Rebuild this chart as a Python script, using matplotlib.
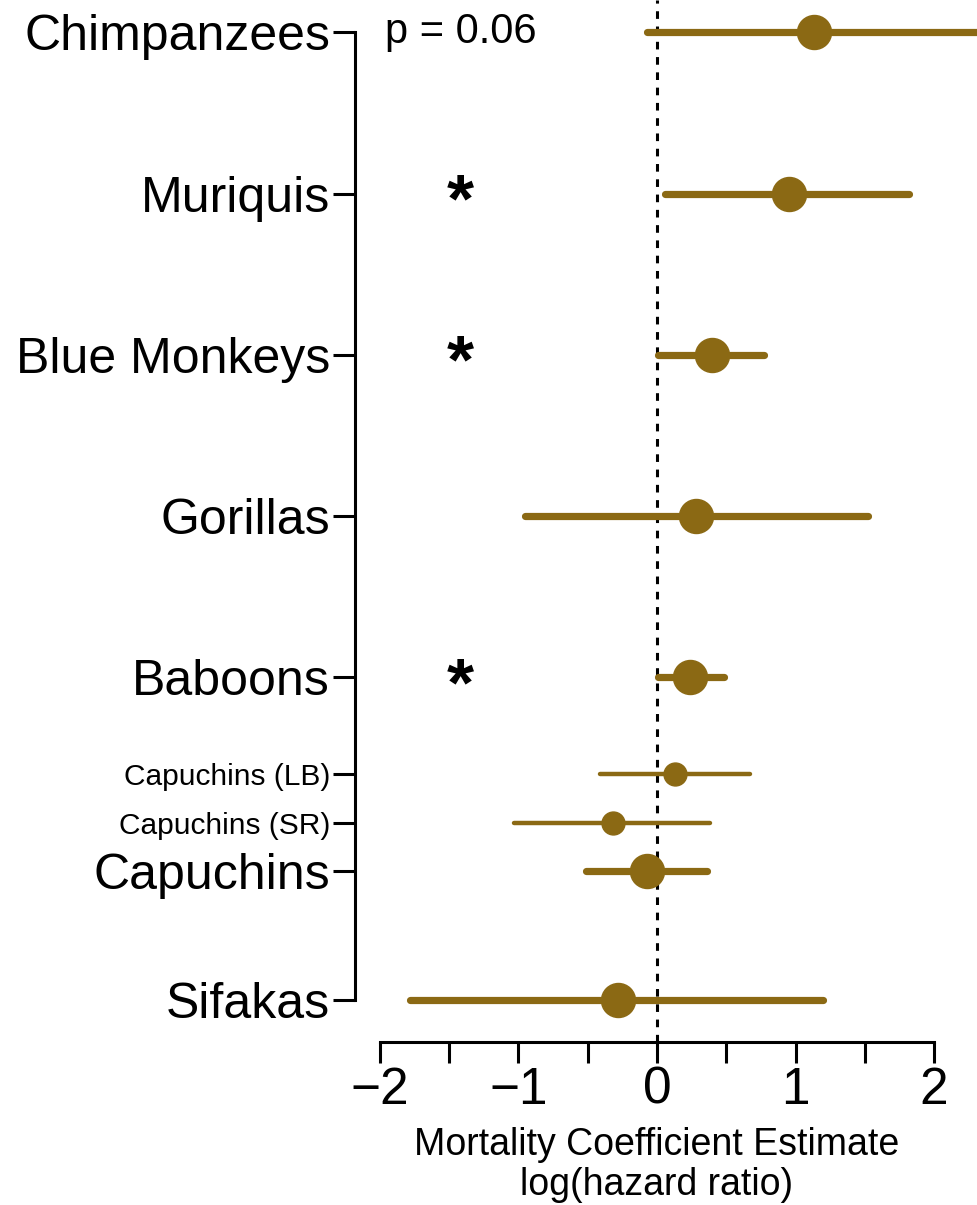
import numpy as np
import matplotlib
matplotlib.use('Agg')
import matplotlib.pyplot as plt

plt.rcParams['font.family'] = ['Liberation Sans', 'DejaVu Sans']

# species rows, top to bottom
species = ['Chimpanzees', 'Muriquis', 'Blue Monkeys', 'Gorillas', 'Baboons',
           'Capuchins (LB)', 'Capuchins (SR)', 'Capuchins', 'Sifakas']
ypos = [7, 6, 5, 4, 3, 2.4, 2.1, 1.8, 1]
est = [1.13, 0.95, 0.40, 0.28, 0.24, 0.13, -0.32, -0.07, -0.28]
lo = [-0.07, 0.06, 0.01, -0.95, 0.01, -0.41, -1.03, -0.51, -1.78]
hi = [3.0, 1.82, 0.77, 1.52, 0.48, 0.67, 0.38, 0.36, 1.20]
small = [False, False, False, False, False, True, True, False, False]
signif = ['Muriquis', 'Blue Monkeys', 'Baboons']

col = '#8B6914'

fig = plt.figure(figsize=(9.77, 12.05), dpi=100)
ax = fig.add_axes([0.3634, 0.1353, 0.6366, 0.8647])
ax.set_xlim(-2.18, 2.31)
ax.set_ylim(0.74, 7.2)

ax.axvline(0, color='black', ls=(0, (2.5, 2.5)), lw=2.2, zorder=1)

for i in range(len(species)):
    lw = 3.2 if small[i] else 5.2
    ms = 16.5 if small[i] else 24.5
    ax.plot([lo[i], hi[i]], [ypos[i], ypos[i]], color=col, lw=lw,
            solid_capstyle='round', zorder=2)
    ax.plot(est[i], ypos[i], 'o', color=col, ms=ms, zorder=3)
    if species[i] in signif:
        ax.text(-1.42, ypos[i] - 0.06, '*', fontsize=50, ha='center',
                va='center', fontweight='bold')

ax.text(-1.42, 7.0, 'p = 0.06', fontsize=30, ha='center', va='center')

ax.set_yticks(ypos)
ax.set_yticklabels(species)
for lab, s in zip(ax.get_yticklabels(), small):
    lab.set_fontsize(21.5 if s else 36)
ax.tick_params(axis='y', length=16, width=2.2, pad=2)

ax.set_xticks(np.arange(-2, 2.01, 0.5))
ax.set_xticklabels(['\u22122', '', '\u22121', '', '0', '', '1', '', '2'])
ax.tick_params(axis='x', length=15, width=2.2, labelsize=37, pad=2)

ax.spines['top'].set_visible(False)
ax.spines['right'].set_visible(False)
ax.spines['left'].set_bounds(1, 7)
ax.spines['bottom'].set_bounds(-2, 2)
ax.spines['left'].set_linewidth(2.2)
ax.spines['bottom'].set_linewidth(2.2)

fig.text(657 / 977, 1 - 1165 / 1205,
         'Mortality Coefficient Estimate\nlog(hazard ratio)', fontsize=27,
         linespacing=1.15, ha='center', va='center')

fig.savefig('out.png', dpi=100)
